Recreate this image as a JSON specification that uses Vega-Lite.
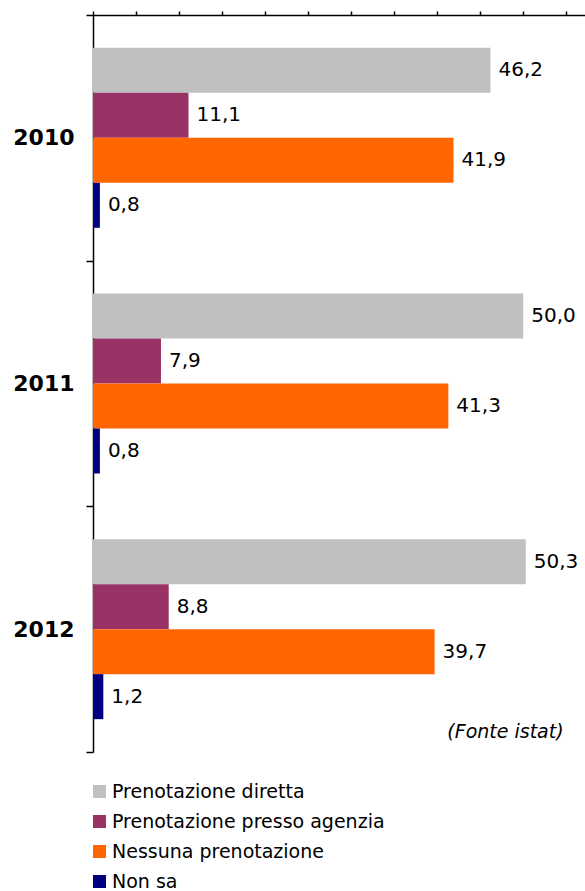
{
  "$schema": "https://vega.github.io/schema/vega-lite/v6.json",
  "width": 493,
  "height": 737,
  "autosize": {"type": "none"},
  "padding": {"left": 93, "top": 15, "right": 0, "bottom": 139},
  "background": "white",
  "config": {
    "view": {"stroke": null},
    "font": "DejaVu Sans",
    "locale": {"number": {"decimal": ",", "thousands": ".", "grouping": [3], "currency": ["", " €"]}}
  },
  "datasets": {
    "dati": [
      {"anno": "2010", "tipo": "Prenotazione diretta", "valore": 46.2},
      {"anno": "2010", "tipo": "Prenotazione presso agenzia", "valore": 11.1},
      {"anno": "2010", "tipo": "Nessuna prenotazione", "valore": 41.9},
      {"anno": "2010", "tipo": "Non sa", "valore": 0.8},
      {"anno": "2011", "tipo": "Prenotazione diretta", "valore": 50.0},
      {"anno": "2011", "tipo": "Prenotazione presso agenzia", "valore": 7.9},
      {"anno": "2011", "tipo": "Nessuna prenotazione", "valore": 41.3},
      {"anno": "2011", "tipo": "Non sa", "valore": 0.8},
      {"anno": "2012", "tipo": "Prenotazione diretta", "valore": 50.3},
      {"anno": "2012", "tipo": "Prenotazione presso agenzia", "valore": 8.8},
      {"anno": "2012", "tipo": "Nessuna prenotazione", "valore": 39.7},
      {"anno": "2012", "tipo": "Non sa", "valore": 1.2}
    ],
    "nota": [{"nota": "(Fonte istat)", "anno": "2012", "x": 54.7}]
  },
  "layer": [
    {
      "data": {"name": "dati"},
      "mark": {"type": "bar"},
      "encoding": {
        "y": {
          "field": "anno", "type": "nominal",
          "scale": {"paddingInner": 0, "paddingOuter": 0},
          "axis": {
            "title": null, "orient": "left", "tickBand": "extent",
            "domainColor": "black", "domainWidth": 1.5,
            "tickColor": "black", "tickWidth": 1.5, "tickSize": 7,
            "labelFont": "DejaVu Sans", "labelFontWeight": "bold", "labelFontSize": 22,
            "labelColor": "black", "labelPadding": 12
          }
        },
        "x": {
          "field": "valore", "type": "quantitative",
          "scale": {"domain": [0, 57.3], "nice": false, "zero": true},
          "axis": {
            "title": null, "orient": "top", "labels": false, "grid": false,
            "values": [0, 5, 10, 15, 20, 25, 30, 35, 40, 45, 50, 55],
            "domainColor": "black", "domainWidth": 1.5,
            "tickColor": "black", "tickWidth": 1.5, "tickSize": 4
          }
        },
        "yOffset": {
          "field": "tipo", "type": "nominal",
          "sort": ["Prenotazione diretta", "Prenotazione presso agenzia", "Nessuna prenotazione", "Non sa"],
          "scale": {"paddingInner": 0, "paddingOuter": 0.73}
        },
        "color": {
          "field": "tipo", "type": "nominal",
          "scale": {
            "domain": ["Prenotazione diretta", "Prenotazione presso agenzia", "Nessuna prenotazione", "Non sa"],
            "range": ["#C0C0C0", "#993366", "#FF6600", "#000080"]
          },
          "legend": {
            "title": null, "orient": "none", "legendX": -3, "legendY": 767,
            "direction": "vertical", "padding": 0,
            "symbolType": "square", "symbolSize": 169, "symbolStrokeWidth": 0,
            "labelFont": "DejaVu Sans", "labelFontSize": 19, "labelColor": "black",
            "labelOffset": 3, "rowPadding": 10, "labelLimit": 500
          }
        }
      }
    },
    {
      "data": {"name": "dati"},
      "mark": {"type": "text", "align": "left", "baseline": "middle", "dx": 8, "fontSize": 20, "font": "DejaVu Sans", "color": "black"},
      "encoding": {
        "y": {"field": "anno", "type": "nominal"},
        "x": {"field": "valore", "type": "quantitative"},
        "yOffset": {
          "field": "tipo", "type": "nominal",
          "sort": ["Prenotazione diretta", "Prenotazione presso agenzia", "Nessuna prenotazione", "Non sa"]
        },
        "text": {"field": "valore", "type": "quantitative", "format": ".1f"}
      }
    },
    {
      "data": {"name": "nota"},
      "mark": {"type": "text", "align": "right", "baseline": "middle", "fontSize": 19, "font": "DejaVu Sans", "fontStyle": "italic", "color": "black", "dy": 103},
      "encoding": {
        "text": {"field": "nota", "type": "nominal"},
        "x": {"field": "x", "type": "quantitative"},
        "y": {"field": "anno", "type": "nominal"}
      }
    }
  ]
}
